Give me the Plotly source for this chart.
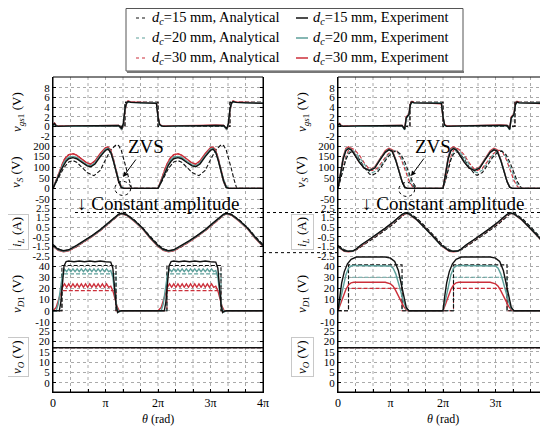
import plotly.graph_objects as go

# theta values are in multiples of pi
BLACK = '#111111'
TEAL = '#5c9f9a'
RED = '#cc2f3a'

# ---------------- left panel ----------------
L_VGS_X = [0, 0.03, 0.06, 0.1, 0.4, 0.8, 1.1, 1.25, 1.31, 1.34, 1.37, 1.4, 1.43, 1.48, 1.7, 1.97,
           2.0, 2.03, 2.07, 2.1, 2.4, 2.8, 3.1, 3.25, 3.31, 3.34, 3.37, 3.4, 3.43, 3.48, 3.7, 4.0]
L_VGS_15 = [0.3, 0.6, 0.1, 0.0, 0.1, 0.2, 0.3, 0.2, -0.5, 0.6, 3.6, 4.9, 5.2, 5.0, 4.9, 4.8,
            2.0, 0.4, 0.1, 0.0, 0.1, 0.2, 0.3, 0.2, -0.5, 0.6, 3.6, 4.9, 5.2, 5.0, 4.9, 4.8]
L_VGS_20 = [0.2, 0.5, 0.1, 0.0, 0.0, 0.1, 0.2, 0.1, -0.6, 0.4, 3.4, 4.8, 5.1, 5.0, 4.9, 4.9,
            2.1, 0.3, 0.0, 0.0, 0.0, 0.1, 0.2, 0.1, -0.6, 0.4, 3.4, 4.8, 5.1, 5.0, 4.9, 4.9]
L_VGS_30 = [0.4, 0.7, 0.2, 0.1, 0.1, 0.2, 0.3, 0.2, -0.7, 0.3, 3.2, 4.7, 5.3, 5.1, 5.0, 4.9,
            2.2, 0.5, 0.1, 0.1, 0.1, 0.2, 0.3, 0.2, -0.7, 0.3, 3.2, 4.7, 5.3, 5.1, 5.0, 4.9]
L_VGS_ANA_X = [0, 1.37, 1.37, 2.0, 2.0, 3.37, 3.37, 4.0]
VGS_ANA = [0, 0, 5, 5, 0, 0, 5, 5]

L_VS_X = [0, 0.05, 0.1, 0.15, 0.2, 0.25, 0.3, 0.38, 0.45, 0.55, 0.65, 0.72, 0.8, 0.9, 1.0, 1.05, 1.1, 1.15, 1.2, 1.25, 1.3, 1.35, 1.6, 1.9,
          2.0, 2.05, 2.1, 2.15, 2.2, 2.25, 2.3, 2.38, 2.45, 2.55, 2.65, 2.72, 2.8, 2.9, 3.0, 3.05, 3.1, 3.15, 3.2, 3.25, 3.3, 3.35, 3.6, 3.9, 4.0]
L_VS_EXP15 = [0, 25, 55, 85, 110, 128, 140, 145, 140, 122, 106, 102, 115, 150, 180, 185, 170, 130, 80, 35, 5, 0, 0, 0,
              0, 25, 55, 85, 110, 128, 140, 145, 140, 122, 106, 102, 115, 150, 180, 185, 170, 130, 80, 35, 5, 0, 0, 0, 0]
L_VS_EXP20 = [0, 28, 60, 92, 118, 136, 147, 151, 146, 128, 111, 107, 121, 156, 185, 189, 172, 130, 78, 32, 4, 0, 0, 0,
              0, 28, 60, 92, 118, 136, 147, 151, 146, 128, 111, 107, 121, 156, 185, 189, 172, 130, 78, 32, 4, 0, 0, 0, 0]
L_VS_EXP30 = [0, 32, 68, 102, 128, 147, 158, 163, 157, 138, 120, 115, 130, 165, 192, 195, 177, 133, 78, 30, 3, 0, 0, 0,
              0, 32, 68, 102, 128, 147, 158, 163, 157, 138, 120, 115, 130, 165, 192, 195, 177, 133, 78, 30, 3, 0, 0, 0, 0]
L_VS_ANA20 = [0, 30, 63, 95, 120, 138, 148, 150, 143, 124, 108, 104, 118, 152, 182, 188, 176, 140, 92, 45, 12, 0, 0, 0,
              0, 30, 63, 95, 120, 138, 148, 150, 143, 124, 108, 104, 118, 152, 182, 188, 176, 140, 92, 45, 12, 0, 0, 0, 0]
L_VS_ANA30 = [0, 34, 70, 105, 131, 150, 160, 164, 157, 137, 118, 113, 128, 162, 190, 196, 182, 142, 92, 42, 10, 0, 0, 0,
              0, 34, 70, 105, 131, 150, 160, 164, 157, 137, 118, 113, 128, 162, 190, 196, 182, 142, 92, 42, 10, 0, 0, 0, 0]
L_VS_ANA_X = [0, 0.1, 0.2, 0.3, 0.38, 0.45, 0.55, 0.65, 0.78, 0.9, 1.0, 1.1, 1.2, 1.25, 1.3, 1.35, 1.4, 1.45, 1.5, 1.7, 1.9,
              2.0, 2.1, 2.2, 2.3, 2.38, 2.45, 2.55, 2.65, 2.78, 2.9, 3.0, 3.1, 3.2, 3.25, 3.3, 3.35, 3.4, 3.45, 3.5, 3.7, 3.9, 4.0]
L_VS_ANA15 = [0, 45, 95, 125, 131, 124, 100, 75, 60, 85, 135, 182, 205, 202, 180, 140, 90, 40, 0, 0, 0,
              0, 45, 95, 125, 131, 124, 100, 75, 60, 85, 135, 182, 205, 202, 180, 140, 90, 40, 0, 0, 0, 0]

L_IL_X = [0, 0.1, 0.2, 0.3, 0.45, 0.6, 0.75, 0.9, 1.05, 1.15, 1.25, 1.31, 1.4, 1.55, 1.7, 1.85,
          2.0, 2.1, 2.2, 2.3, 2.45, 2.6, 2.75, 2.9, 3.05, 3.15, 3.25, 3.31, 3.4, 3.55, 3.7, 3.85, 4.0]
L_IL_EXP15 = [-1.4, -1.8, -1.95, -1.85, -1.4, -0.9, -0.35, 0.25, 0.95, 1.45, 1.85, 1.95, 1.8, 1.2, 0.45, -0.55,
              -1.4, -1.8, -1.95, -1.85, -1.4, -0.9, -0.35, 0.25, 0.95, 1.45, 1.85, 1.95, 1.8, 1.2, 0.45, -0.55, -1.4]
L_IL_EXP20 = [-1.45, -1.85, -2.0, -1.9, -1.45, -0.95, -0.4, 0.2, 0.9, 1.4, 1.8, 1.92, 1.78, 1.15, 0.4, -0.6,
              -1.45, -1.85, -2.0, -1.9, -1.45, -0.95, -0.4, 0.2, 0.9, 1.4, 1.8, 1.92, 1.78, 1.15, 0.4, -0.6, -1.45]
L_IL_EXP30 = [-1.5, -1.9, -2.05, -1.95, -1.5, -1.0, -0.45, 0.15, 0.85, 1.35, 1.77, 1.9, 1.75, 1.1, 0.35, -0.65,
              -1.5, -1.9, -2.05, -1.95, -1.5, -1.0, -0.45, 0.15, 0.85, 1.35, 1.77, 1.9, 1.75, 1.1, 0.35, -0.65, -1.5]
L_IL_ANA15 = [-1.3, -1.75, -1.95, -1.9, -1.5, -0.95, -0.4, 0.2, 0.85, 1.35, 1.8, 1.98, 1.85, 1.25, 0.5, -0.45,
              -1.3, -1.75, -1.95, -1.9, -1.5, -0.95, -0.4, 0.2, 0.85, 1.35, 1.8, 1.98, 1.85, 1.25, 0.5, -0.45, -1.3]
L_IL_ANA20 = [-1.35, -1.8, -1.98, -1.92, -1.5, -0.98, -0.42, 0.18, 0.85, 1.35, 1.78, 1.94, 1.82, 1.2, 0.45, -0.5,
              -1.35, -1.8, -1.98, -1.92, -1.5, -0.98, -0.42, 0.18, 0.85, 1.35, 1.78, 1.94, 1.82, 1.2, 0.45, -0.5, -1.35]
L_IL_ANA30 = [-1.4, -1.85, -2.02, -1.95, -1.55, -1.02, -0.47, 0.12, 0.8, 1.3, 1.74, 1.9, 1.78, 1.15, 0.4, -0.55,
              -1.4, -1.85, -2.02, -1.95, -1.55, -1.02, -0.47, 0.12, 0.8, 1.3, 1.74, 1.9, 1.78, 1.15, 0.4, -0.55, -1.4]

L_VD_X15 = [0, 0.12, 0.15, 0.18, 0.21, 0.25, 0.3, 0.4, 0.5, 0.6, 0.7, 0.8, 0.9, 1.0, 1.1, 1.14, 1.17, 1.2, 1.23, 1.26, 1.3, 1.6, 1.9,
            2.0, 2.12, 2.15, 2.18, 2.21, 2.25, 2.3, 2.4, 2.5, 2.6, 2.7, 2.8, 2.9, 3.0, 3.1, 3.14, 3.17, 3.2, 3.23, 3.26, 3.3, 3.6, 3.9, 4.0]
L_VD_EXP15 = [0, 0, 8, 28, 40, 44, 44.5, 43.8, 44.5, 43.8, 44.5, 43.8, 44.5, 43.8, 43.5, 38, 22, 6, -1.5, -0.5, 0, 0, 0,
              0, 0, 8, 28, 40, 44, 44.5, 43.8, 44.5, 43.8, 44.5, 43.8, 44.5, 43.8, 43.5, 38, 22, 6, -1.5, -0.5, 0, 0, 0, 0]
L_VD_X = [0, 0.06, 0.1, 0.14, 0.18, 0.22, 0.26, 0.3, 0.34, 0.38, 0.42, 0.46, 0.5, 0.54, 0.58, 0.62, 0.66, 0.7, 0.74, 0.78,
          0.82, 0.86, 0.9, 0.94, 0.98, 1.02, 1.06, 1.1, 1.14, 1.18, 1.22, 1.26, 1.3, 1.6, 1.9,
          2.0, 2.06, 2.1, 2.14, 2.18, 2.22, 2.26, 2.3, 2.34, 2.38, 2.42, 2.46, 2.5, 2.54, 2.58, 2.62, 2.66, 2.7, 2.74, 2.78,
          2.82, 2.86, 2.9, 2.94, 2.98, 3.02, 3.06, 3.1, 3.14, 3.18, 3.22, 3.26, 3.3, 3.6, 3.9, 4.0]
L_VD_EXP20 = [0, 0, 6, 20, 32, 37, 35, 37.5, 35, 37.5, 35, 37.5, 35, 37.5, 35, 37.5, 35, 37.5, 35, 37.5,
              35, 37.5, 35, 37.5, 35, 37.5, 35, 36, 30, 14, 2, -1, 0, 0, 0,
              0, 0, 6, 20, 32, 37, 35, 37.5, 35, 37.5, 35, 37.5, 35, 37.5, 35, 37.5, 35, 37.5, 35, 37.5,
              35, 37.5, 35, 37.5, 35, 37.5, 35, 36, 30, 14, 2, -1, 0, 0, 0, 0]
L_VD_EXP30 = [0, 3, 9, 16, 21, 24, 21, 24, 21, 24, 21, 24, 21, 24, 21, 24, 21, 24, 21, 24,
              21, 24, 21, 24, 21, 24, 21, 22, 18, 11, 4, 0, 0, 0, 0,
              0, 3, 9, 16, 21, 24, 21, 24, 21, 24, 21, 24, 21, 24, 21, 24, 21, 24, 21, 24,
              21, 24, 21, 24, 21, 24, 21, 22, 18, 11, 4, 0, 0, 0, 0, 0]
L_VD_ANA_X = [0, 0.17, 0.17, 1.2, 1.2, 2.17, 2.17, 3.2, 3.2, 4.0]
L_VD_ANA15 = [0, 0, 40.5, 40.5, 0, 0, 40.5, 40.5, 0, 0]
L_VD_ANA20 = [0, 0, 33, 33, 0, 0, 33, 33, 0, 0]
L_VD_ANA30 = [0, 0, 18, 18, 0, 0, 18, 18, 0, 0]

VO_X = [0, 4]
VO_ALL = [17, 17]

# ---------------- right panel ----------------
R_VGS_X = [0, 0.03, 0.06, 0.1, 0.4, 0.8, 1.1, 1.22, 1.27, 1.3, 1.33, 1.35, 1.38, 1.41, 1.45, 1.7, 1.97,
           2.0, 2.03, 2.07, 2.1, 2.4, 2.8, 3.1, 3.22, 3.27, 3.3, 3.33, 3.35, 3.38, 3.41, 3.45, 3.7, 4.0]
R_VGS_15 = [0.3, 0.5, 0.1, 0.0, 0.1, 0.2, 0.3, 0.2, -0.6, 1.8, 2.2, 2.4, 4.6, 5.1, 4.9, 4.8, 4.8,
            2.0, 0.3, 0.0, 0.0, 0.1, 0.2, 0.3, 0.2, -0.6, 1.8, 2.2, 2.4, 4.6, 5.1, 4.9, 4.8, 4.8]
R_VGS_20 = [0.2, 0.4, 0.1, 0.0, 0.0, 0.1, 0.2, 0.1, -0.7, 1.6, 2.1, 2.3, 4.5, 5.0, 4.9, 4.9, 4.9,
            2.1, 0.2, 0.0, 0.0, 0.0, 0.1, 0.2, 0.1, -0.7, 1.6, 2.1, 2.3, 4.5, 5.0, 4.9, 4.9, 4.9]
R_VGS_30 = [0.4, 0.6, 0.2, 0.1, 0.1, 0.2, 0.3, 0.2, -0.5, 2.0, 2.3, 2.5, 4.7, 5.2, 5.0, 4.8, 4.7,
            1.9, 0.4, 0.1, 0.1, 0.1, 0.2, 0.3, 0.2, -0.5, 2.0, 2.3, 2.5, 4.7, 5.2, 5.0, 4.8, 4.7]
R_VGS_ANA_X = [0, 1.37, 1.37, 2.0, 2.0, 3.37, 3.37, 4.0]

R_VS_X = [0, 0.03, 0.07, 0.1, 0.15, 0.2, 0.25, 0.3, 0.4, 0.5, 0.6, 0.7, 0.8, 0.9, 0.97, 1.03, 1.1, 1.17, 1.22, 1.27, 1.32, 1.6, 1.9,
          2.0, 2.03, 2.07, 2.1, 2.15, 2.2, 2.25, 2.3, 2.4, 2.5, 2.6, 2.7, 2.8, 2.9, 2.97, 3.03, 3.1, 3.17, 3.22, 3.27, 3.32, 3.6, 3.9, 4.0]
R_VS_EXP15 = [0, 40, 100, 140, 178, 188, 182, 165, 125, 95, 84, 96, 135, 170, 182, 176, 132, 72, 32, 6, 0, 0, 0,
              0, 40, 100, 140, 178, 188, 182, 165, 125, 95, 84, 96, 135, 170, 182, 176, 132, 72, 32, 6, 0, 0, 0, 0]
R_VS_EXP20 = [0, 42, 104, 145, 182, 190, 184, 166, 126, 96, 86, 98, 137, 172, 184, 178, 134, 74, 33, 6, 0, 0, 0,
              0, 42, 104, 145, 182, 190, 184, 166, 126, 96, 86, 98, 137, 172, 184, 178, 134, 74, 33, 6, 0, 0, 0, 0]
R_VS_EXP30 = [0, 45, 108, 150, 188, 196, 188, 168, 126, 95, 88, 102, 142, 178, 189, 182, 137, 75, 33, 6, 0, 0, 0,
              0, 45, 108, 150, 188, 196, 188, 168, 126, 95, 88, 102, 142, 178, 189, 182, 137, 75, 33, 6, 0, 0, 0, 0]
R_VS_ANA_X = [0, 0.05, 0.1, 0.15, 0.2, 0.25, 0.3, 0.4, 0.5, 0.6, 0.65, 0.75, 0.85, 0.95, 1.05, 1.12, 1.2, 1.28, 1.35, 1.42, 1.5, 1.7, 1.9,
              2.0, 2.05, 2.1, 2.15, 2.2, 2.25, 2.3, 2.4, 2.5, 2.6, 2.65, 2.75, 2.85, 2.95, 3.05, 3.12, 3.2, 3.28, 3.35, 3.42, 3.5, 3.7, 3.9, 4.0]
R_VS_ANA15 = [0, 40, 90, 135, 162, 172, 168, 140, 100, 68, 62, 75, 110, 148, 172, 176, 160, 120, 75, 30, 0, 0, 0,
              0, 40, 90, 135, 162, 172, 168, 140, 100, 68, 62, 75, 110, 148, 172, 176, 160, 120, 75, 30, 0, 0, 0, 0]
R_VS_ANA20 = [0, 42, 95, 142, 170, 180, 176, 150, 112, 80, 74, 86, 120, 156, 176, 178, 150, 100, 50, 15, 0, 0, 0,
              0, 42, 95, 142, 170, 180, 176, 150, 112, 80, 74, 86, 120, 156, 176, 178, 150, 100, 50, 15, 0, 0, 0, 0]
R_VS_ANA30 = [0, 45, 100, 150, 180, 190, 185, 160, 120, 90, 84, 95, 128, 162, 180, 178, 140, 85, 38, 8, 0, 0, 0,
              0, 45, 100, 150, 180, 190, 185, 160, 120, 90, 84, 95, 128, 162, 180, 178, 140, 85, 38, 8, 0, 0, 0, 0]

R_IL_X = [0, 0.12, 0.2, 0.28, 0.35, 0.45, 0.6, 0.75, 0.9, 1.05, 1.15, 1.22, 1.28, 1.35, 1.5, 1.65, 1.8, 1.95,
          2.0, 2.12, 2.2, 2.28, 2.35, 2.45, 2.6, 2.75, 2.9, 3.05, 3.15, 3.22, 3.28, 3.35, 3.5, 3.65, 3.8, 3.95, 4.0]
R_IL_EXP15 = [-1.5, -1.95, -2.0, -1.98, -1.75, -1.3, -0.75, -0.2, 0.4, 1.05, 1.55, 1.85, 2.0, 1.9, 1.3, 0.5, -0.4, -1.3,
              -1.5, -1.95, -2.0, -1.98, -1.75, -1.3, -0.75, -0.2, 0.4, 1.05, 1.55, 1.85, 2.0, 1.9, 1.3, 0.5, -0.4, -1.3, -1.5]
R_IL_EXP20 = [-1.52, -1.97, -2.02, -2.0, -1.78, -1.33, -0.78, -0.23, 0.37, 1.02, 1.52, 1.82, 1.97, 1.88, 1.28, 0.48, -0.42, -1.32,
              -1.52, -1.97, -2.02, -2.0, -1.78, -1.33, -0.78, -0.23, 0.37, 1.02, 1.52, 1.82, 1.97, 1.88, 1.28, 0.48, -0.42, -1.32, -1.52]
R_IL_EXP30 = [-1.55, -2.0, -2.05, -2.02, -1.8, -1.36, -0.8, -0.26, 0.34, 0.98, 1.48, 1.78, 1.94, 1.86, 1.25, 0.45, -0.45, -1.35,
              -1.55, -2.0, -2.05, -2.02, -1.8, -1.36, -0.8, -0.26, 0.34, 0.98, 1.48, 1.78, 1.94, 1.86, 1.25, 0.45, -0.45, -1.35, -1.55]
R_IL_ANA15 = [-1.4, -1.85, -2.0, -2.0, -1.85, -1.5, -0.95, -0.4, 0.2, 0.8, 1.3, 1.65, 1.9, 2.0, 1.45, 0.65, -0.25, -1.15,
              -1.4, -1.85, -2.0, -2.0, -1.85, -1.5, -0.95, -0.4, 0.2, 0.8, 1.3, 1.65, 1.9, 2.0, 1.45, 0.65, -0.25, -1.15, -1.4]
R_IL_ANA20 = [-1.42, -1.88, -2.02, -2.0, -1.82, -1.45, -0.9, -0.35, 0.25, 0.87, 1.37, 1.7, 1.92, 1.97, 1.4, 0.6, -0.3, -1.2,
              -1.42, -1.88, -2.02, -2.0, -1.82, -1.45, -0.9, -0.35, 0.25, 0.87, 1.37, 1.7, 1.92, 1.97, 1.4, 0.6, -0.3, -1.2, -1.42]
R_IL_ANA30 = [-1.45, -1.9, -2.03, -2.0, -1.8, -1.4, -0.85, -0.3, 0.3, 0.93, 1.43, 1.75, 1.93, 1.93, 1.35, 0.55, -0.35, -1.25,
              -1.45, -1.9, -2.03, -2.0, -1.8, -1.4, -0.85, -0.3, 0.3, 0.93, 1.43, 1.75, 1.93, 1.93, 1.35, 0.55, -0.35, -1.25, -1.45]

R_VD_X15 = [0, 0.03, 0.07, 0.12, 0.18, 0.25, 0.35, 0.6, 0.9, 1.0, 1.08, 1.15, 1.2, 1.25, 1.3, 1.35, 1.6, 1.9,
            2.0, 2.03, 2.07, 2.12, 2.18, 2.25, 2.35, 2.6, 2.9, 3.0, 3.08, 3.15, 3.2, 3.25, 3.3, 3.35, 3.6, 3.9, 4.0]
R_VD_EXP15 = [0, 12, 25, 35, 42, 46, 48, 48, 48, 47, 44, 36, 25, 12, 3, 0, 0, 0,
              0, 12, 25, 35, 42, 46, 48, 48, 48, 47, 44, 36, 25, 12, 3, 0, 0, 0, 0]
R_VD_X = [0, 0.05, 0.1, 0.15, 0.2, 0.25, 0.3, 0.6, 0.9, 1.0, 1.05, 1.1, 1.15, 1.2, 1.25, 1.3, 1.35, 1.6, 1.9,
          2.0, 2.05, 2.1, 2.15, 2.2, 2.25, 2.3, 2.6, 2.9, 3.0, 3.05, 3.1, 3.15, 3.2, 3.25, 3.3, 3.35, 3.6, 3.9, 4.0]
R_VD_EXP20 = [0, 10, 22, 32, 38, 40, 40.5, 40.5, 40.5, 40, 38, 33, 25, 16, 8, 2, 0, 0, 0,
              0, 10, 22, 32, 38, 40, 40.5, 40.5, 40.5, 40, 38, 33, 25, 16, 8, 2, 0, 0, 0, 0]
R_VD_EXP30 = [0, 6, 13, 19, 23, 25, 25.5, 25.5, 25.5, 24, 22, 18, 13, 8, 4, 1, 0, 0, 0,
              0, 6, 13, 19, 23, 25, 25.5, 25.5, 25.5, 24, 22, 18, 13, 8, 4, 1, 0, 0, 0, 0]
R_VD_ANA_X = [0, 0.2, 0.2, 1.22, 1.22, 2.2, 2.2, 3.22, 3.22, 4.0]
R_VD_ANA15 = [0, 0, 41, 41, 0, 0, 41, 41, 0, 0]
R_VD_ANA20 = [0, 0, 30, 30, 0, 0, 30, 30, 0, 0]
R_VD_ANA30 = [0, 0, 20, 20, 0, 0, 20, 20, 0, 0]

# axis ticks
ROW_TICKS = [[8, 6, 4, 2, 0, -2], [200, 150, 100, 50, 0, -50], [2.5, 1.5, 0.5, -0.5, -1.5, -2.5],
             [40, 30, 20, 10, 0, -10], [25, 20, 15, 10, 5, 0]]
X_TICKS = [0, 1, 2, 3, 4]
X_LABELS = ['0', 'π', '2π', '3π', '4π']
LEGEND_ROWS = ['15', '20', '30']
LEGEND_COLORS = [BLACK, TEAL, RED]

# ---------------- geometry (window pixels) ----------------
W, H = 548, 428
OFF = 8                      # the page body margin shifts the figure by this much
FW, FH = W - OFF, H - OFF    # figure size that fits in the window
TOP, BOT = 77, 392
PANEL_X = [(53, 263), (338, 548)]
ROW_PX = [(77, 141), (141, 203.5), (203.5, 261), (252, 326), (326, 392)]
ROW_RANGE = [[-3.04, 10.29], [-71.2, 223.6], [-3.02, 2.97], [-13.57, 52.5], [-4.33, 27.4]]
TITLE_Y = [112, 172, 232, 294, 357]
TITLES = ['<i>v</i><sub><i>gs</i>1</sub> (V)', '<i>v</i><sub><i>S</i></sub> (V)',
          '<i>i</i><sub><i>L</i></sub> (A)', '<i>v</i><sub><i>D</i>1</sub> (V)',
          '<i>v</i><sub><i>O</i></sub> (V)']
FONT = 'Liberation Serif, Times New Roman, serif'


def fx(p):
    return (p - OFF) / FW


def fy(p):
    return 1 - (p - OFF) / FH


def note(x_px, y_px, text, size, **kw):
    d = dict(xref='paper', yref='paper', x=fx(x_px), y=fy(y_px), text=text,
             showarrow=False, xanchor='center', yanchor='middle',
             font=dict(size=size, color='black'))
    d.update(kw)
    return d


fig = go.Figure()


def add(xa, ya, x, y, color, ana):
    fig.add_trace(go.Scatter(
        x=x, y=y, xaxis=xa, yaxis=ya, mode='lines',
        line=dict(color=color, width=1.1 if ana else 1.4,
                  dash='4px,2px' if ana else 'solid'),
        showlegend=False, hoverinfo='skip'))


def add_panel(xa, ys, sets):
    for ya, items in zip(ys, sets):
        for x, y, c, ana in items:
            add(xa, ya, x, y, c, ana)


left_sets = [
    [(L_VGS_ANA_X, VGS_ANA, RED, True), (L_VGS_ANA_X, VGS_ANA, TEAL, True), (L_VGS_ANA_X, VGS_ANA, BLACK, True),
     (L_VGS_X, L_VGS_30, RED, False), (L_VGS_X, L_VGS_20, TEAL, False), (L_VGS_X, L_VGS_15, BLACK, False)],
    [(L_VS_X, L_VS_ANA30, RED, True), (L_VS_X, L_VS_ANA20, TEAL, True), (L_VS_ANA_X, L_VS_ANA15, BLACK, True),
     (L_VS_X, L_VS_EXP30, RED, False), (L_VS_X, L_VS_EXP20, TEAL, False), (L_VS_X, L_VS_EXP15, BLACK, False)],
    [(L_IL_X, L_IL_ANA30, RED, True), (L_IL_X, L_IL_ANA20, TEAL, True), (L_IL_X, L_IL_ANA15, BLACK, True),
     (L_IL_X, L_IL_EXP30, RED, False), (L_IL_X, L_IL_EXP20, TEAL, False), (L_IL_X, L_IL_EXP15, BLACK, False)],
    [(L_VD_ANA_X, L_VD_ANA30, RED, True), (L_VD_ANA_X, L_VD_ANA20, TEAL, True), (L_VD_ANA_X, L_VD_ANA15, BLACK, True),
     (L_VD_X, L_VD_EXP30, RED, False), (L_VD_X, L_VD_EXP20, TEAL, False), (L_VD_X15, L_VD_EXP15, BLACK, False)],
    [(VO_X, VO_ALL, RED, True), (VO_X, VO_ALL, TEAL, True), (VO_X, VO_ALL, BLACK, True),
     (VO_X, VO_ALL, RED, False), (VO_X, VO_ALL, TEAL, False), (VO_X, VO_ALL, BLACK, False)],
]
right_sets = [
    [(R_VGS_ANA_X, VGS_ANA, RED, True), (R_VGS_ANA_X, VGS_ANA, TEAL, True), (R_VGS_ANA_X, VGS_ANA, BLACK, True),
     (R_VGS_X, R_VGS_30, RED, False), (R_VGS_X, R_VGS_20, TEAL, False), (R_VGS_X, R_VGS_15, BLACK, False)],
    [(R_VS_ANA_X, R_VS_ANA30, RED, True), (R_VS_ANA_X, R_VS_ANA20, TEAL, True), (R_VS_ANA_X, R_VS_ANA15, BLACK, True),
     (R_VS_X, R_VS_EXP30, RED, False), (R_VS_X, R_VS_EXP20, TEAL, False), (R_VS_X, R_VS_EXP15, BLACK, False)],
    [(R_IL_X, R_IL_ANA30, RED, True), (R_IL_X, R_IL_ANA20, TEAL, True), (R_IL_X, R_IL_ANA15, BLACK, True),
     (R_IL_X, R_IL_EXP30, RED, False), (R_IL_X, R_IL_EXP20, TEAL, False), (R_IL_X, R_IL_EXP15, BLACK, False)],
    [(R_VD_ANA_X, R_VD_ANA30, RED, True), (R_VD_ANA_X, R_VD_ANA20, TEAL, True), (R_VD_ANA_X, R_VD_ANA15, BLACK, True),
     (R_VD_X, R_VD_EXP30, RED, False), (R_VD_X, R_VD_EXP20, TEAL, False), (R_VD_X15, R_VD_EXP15, BLACK, False)],
    [(VO_X, VO_ALL, RED, True), (VO_X, VO_ALL, TEAL, True), (VO_X, VO_ALL, BLACK, True),
     (VO_X, VO_ALL, RED, False), (VO_X, VO_ALL, TEAL, False), (VO_X, VO_ALL, BLACK, False)],
]
add_panel('x', ['y', 'y2', 'y3', 'y4', 'y5'], left_sets)
add_panel('x2', ['y6', 'y7', 'y8', 'y9', 'y10'], right_sets)

layout = {}
shapes = []
annotations = []
for p, (xl, xr) in enumerate(PANEL_X):
    xname = 'xaxis' if p == 0 else 'xaxis2'
    xref = 'x' if p == 0 else 'x2'
    layout[xname] = dict(
        domain=[fx(xl), min(fx(xr), 1)], range=[0, 4], anchor=f'y{5 + 5 * p}',
        tickvals=X_TICKS, ticktext=X_LABELS, ticks='inside', ticklen=3,
        tickcolor='black', showline=True, linecolor='black', linewidth=1,
        minor=dict(tick0=0, dtick=1 / 3, ticks='inside', ticklen=3, tickcolor='black', showgrid=False),
        showgrid=False, zeroline=False, automargin=False,
        tickfont=dict(size=12, color='black'), fixedrange=True)
    for r in range(5):
        n = p * 5 + r + 1
        yname = 'yaxis' if n == 1 else f'yaxis{n}'
        top, bot = ROW_PX[r]
        layout[yname] = dict(
            domain=[fy(bot), fy(top)], range=ROW_RANGE[r], anchor=xref,
            tickvals=ROW_TICKS[r], ticktext=[str(v) for v in ROW_TICKS[r]],
            ticks='inside', ticklen=3, tickcolor='black',
            showline=True, linecolor='black', linewidth=1, mirror='ticks',
            showgrid=True, gridcolor='#aaaaaa', griddash='dot', gridwidth=1,
            zeroline=False, automargin=False,
            tickfont=dict(size=11, color='black'), fixedrange=True)
        boxed = r in (2, 4)
        annotations.append(note(xl - 36, TITLE_Y[r], TITLES[r], 13, textangle=-90,
                                bordercolor='#c8c8c8' if boxed else 'rgba(0,0,0,0)',
                                borderwidth=1, borderpad=2))
    # vertical dotted grid every pi/3
    for k in range(1, 12):
        shapes.append(dict(type='line', xref=xref, yref='paper', x0=k / 3, x1=k / 3,
                           y0=fy(BOT), y1=fy(TOP), layer='below',
                           line=dict(color='#aaaaaa', width=1, dash='dot')))
    # frame
    shapes.append(dict(type='rect', xref='paper', yref='paper', x0=fx(xl), x1=fx(min(xr, W - 0.5)),
                       y0=fy(BOT), y1=fy(TOP), line=dict(color='black', width=1)))
    annotations.append(note((xl + xr) / 2, 419, '<i>θ</i> (rad)', 12))

# ZVS marks
for xref, yref, cx, cy, tx, hx, hy in [('x', 'y2', 1.33, 0, 146, 123, 177),
                                       ('x2', 'y7', 1.31, -5, 433, 411, 176)]:
    shapes.append(dict(type='circle', xref=xref, yref=yref, x0=cx - 0.15, x1=cx + 0.15,
                       y0=cy - 33, y1=cy + 33, line=dict(color='black', width=1, dash='dot')))
    annotations.append(note(tx, 147, 'ZVS', 19))
    annotations.append(dict(xref='paper', yref='paper', x=fx(hx), y=fy(hy), text='',
                            showarrow=True, arrowhead=2, arrowsize=1, arrowwidth=1,
                            arrowcolor='black', ax=14, ay=-19))

# constant amplitude
for cx in (158, 443):
    annotations.append(note(cx, 203, '↓ Constant amplitude', 19))
shapes.append(dict(type='line', xref='paper', yref='y3', x0=fx(75), x1=1, y0=2.03, y1=2.03,
                   line=dict(color='black', width=1, dash='dot')))
shapes.append(dict(type='line', xref='paper', yref='y3', x0=fx(263), x1=fx(338), y0=-2.15, y1=-2.15,
                   line=dict(color='black', width=1, dash='dot')))

# legend box
shapes.append(dict(type='rect', xref='paper', yref='paper', x0=fx(126), x1=fx(463),
                   y0=fy(71), y1=fy(8.5), fillcolor='white', line=dict(color='#555555', width=1)))
shapes.append(dict(type='line', xref='paper', yref='paper', x0=fx(127), x1=fx(464),
                   y0=fy(72), y1=fy(72), line=dict(color='#777777', width=2)))
for i, (lab, col) in enumerate(zip(LEGEND_ROWS, LEGEND_COLORS)):
    yy = 18 + i * 20
    shapes.append(dict(type='line', xref='paper', yref='paper', x0=fx(136), x1=fx(147),
                       y0=fy(yy), y1=fy(yy), line=dict(color=col, width=1.2, dash='dot')))
    shapes.append(dict(type='line', xref='paper', yref='paper', x0=fx(296), x1=fx(308),
                       y0=fy(yy), y1=fy(yy), line=dict(color=col, width=1.5)))
    annotations.append(note(150, yy, f'<i>d</i><sub><i>c</i></sub>={lab} mm, Analytical',
                            14.5, xanchor='left'))
    annotations.append(note(311, yy, f'<i>d</i><sub><i>c</i></sub>={lab} mm, Experiment',
                            14.5, xanchor='left'))

fig.update_layout(
    **layout,
    template='none',
    width=FW, height=FH, autosize=False,
    margin=dict(l=0, r=0, t=0, b=0, pad=0),
    paper_bgcolor='white', plot_bgcolor='rgba(0,0,0,0)',
    font=dict(family=FONT, color='black'),
    showlegend=False,
    shapes=shapes, annotations=annotations,
)

fig.write_html('out.html')
